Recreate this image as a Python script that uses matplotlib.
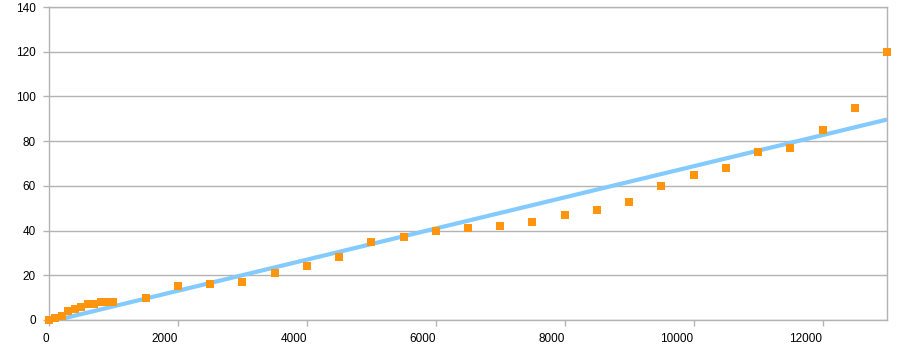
import numpy as np
import matplotlib
matplotlib.use("Agg")
import matplotlib.pyplot as plt

plt.rcParams['font.family'] = ['Liberation Sans', 'DejaVu Sans']

# data
x_vals = [0, 100, 200, 300, 400, 500, 600, 700, 800, 900, 1000,
          1500, 2000, 2500, 3000, 3500, 4000, 4500, 5000, 5500, 6000,
          6500, 7000, 7500, 8000, 8500, 9000, 9500, 10000, 10500, 11000,
          11500, 12000, 12500, 13000]
y_vals = [0, 1, 2, 4, 5, 6, 7, 7, 8, 8, 8,
          10, 15, 16, 17, 21, 24, 28, 35, 37, 40,
          41, 42, 44, 47, 49, 53, 60, 65, 68, 75,
          77, 85, 95, 120]
x_ticks = [0, 2000, 4000, 6000, 8000, 10000, 12000]
y_ticks = [0, 20, 40, 60, 80, 100, 120, 140]

x = np.array(x_vals)
y = np.array(y_vals)

# linear trend line
slope, intercept = np.polyfit(x, y, 1)
tx = np.array([x.min(), x.max()])
ty = slope * tx + intercept

fig = plt.figure(figsize=(9.05, 3.56), dpi=100)
ax = fig.add_axes([49 / 905, 36 / 356, 838 / 905, 313 / 356])

grid_c = "#b3b3b3"
ax.plot(tx, ty, color="#83caff", linewidth=3, solid_capstyle="butt", zorder=2)
ax.scatter(x, y, marker="s", s=36, color="#ff950e", zorder=3, linewidths=0,
           clip_on=False)

ax.set_xlim(0, 13000)
ax.set_ylim(0, 140)
ax.set_xticks(x_ticks)
ax.set_yticks(y_ticks)
ax.yaxis.grid(True, color=grid_c, linewidth=1)
ax.set_axisbelow(True)
for s in ax.spines.values():
    s.set_color(grid_c)
    s.set_linewidth(1)
ax.tick_params(colors=grid_c, labelcolor="black", labelsize=8.5, length=4.5, width=1)
ax.tick_params(axis="x", pad=5)
ax.tick_params(axis="y", pad=5)
plt.setp(ax.get_xticklabels(), ha="right")

fig.savefig("out.png", dpi=100)
